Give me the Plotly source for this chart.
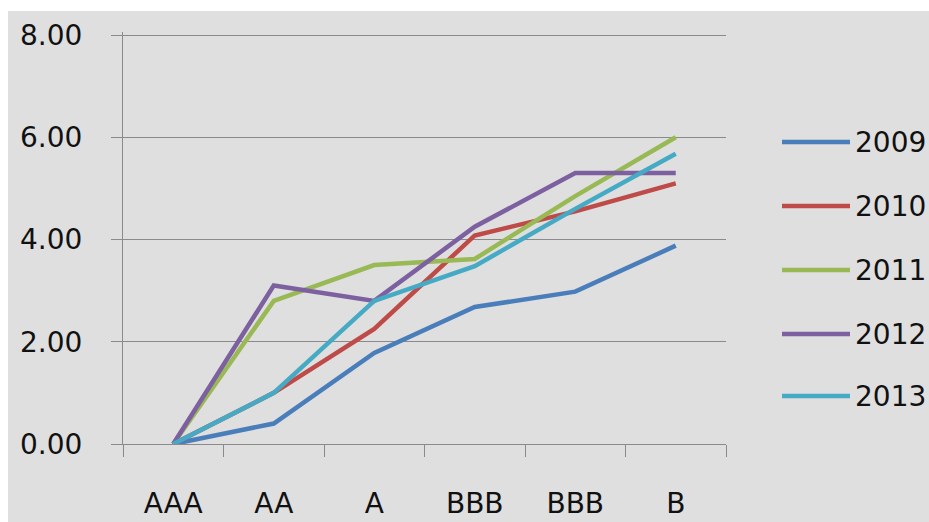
import plotly.graph_objects as go

# rating grades along the x axis (the source repeats "BBB")
grades = ["AAA", "AA", "A", "BBB", "BBB", "B"]
years = ["2009", "2010", "2011", "2012", "2013"]

s2009 = [0.0, 0.40, 1.78, 2.68, 2.98, 3.88]
s2010 = [0.0, 1.00, 2.25, 4.08, 4.55, 5.10]
s2011 = [0.0, 2.80, 3.50, 3.62, 4.85, 6.00]
s2012 = [0.0, 3.10, 2.80, 4.25, 5.30, 5.30]
s2013 = [0.0, 1.00, 2.80, 3.48, 4.60, 5.68]

y_ticks = [0, 2, 4, 6, 8]

series = [s2009, s2010, s2011, s2012, s2013]
colors = ["#4a7ebb", "#be4b48", "#98b954", "#7d60a0", "#46aac5"]

FONT = dict(family="DejaVu Sans", size=28, color="#111111")
AXIS_GREY = "#8a8a8a"

W, H = 929, 522
L, R, T, B = 123, 203, 32, 78
plot_w, plot_h = W - L - R, H - T - B

pos = list(range(len(grades)))

fig = go.Figure()
for year, vals, col in zip(years, series, colors):
    fig.add_trace(go.Scatter(
        x=pos, y=vals, mode="lines", name=year,
        line=dict(color=col, width=4.5), showlegend=False,
    ))

# grey chart-area background, thin white strips left and top
shapes = [dict(type="rect", xref="paper", yref="paper", layer="below",
               x0=(8 - L) / plot_w, x1=(W - L) / plot_w,
               y0=-B / plot_h, y1=(H - B - 11) / plot_h,
               fillcolor="#dfdfdf", line=dict(width=0))]

# hand-built legend so the sample lines are as long as in the original
annotations = []
leg_y = [142, 206, 270, 334, 396]
for year, col, py in zip(years, colors, leg_y):
    yp = (H - B - py) / plot_h
    shapes.append(dict(type="line", xref="paper", yref="paper",
                       x0=(782 - L) / plot_w, x1=(850 - L) / plot_w, y0=yp, y1=yp,
                       line=dict(color=col, width=4.5)))
    annotations.append(dict(text=year, xref="paper", yref="paper",
                            x=(853 - L) / plot_w, y=yp, xanchor="left", yanchor="middle",
                            showarrow=False, font=FONT))

fig.update_layout(
    width=W, height=H,
    margin=dict(l=L, r=R, t=T, b=B),
    paper_bgcolor="white", plot_bgcolor="rgba(0,0,0,0)",
    font=FONT, shapes=shapes, annotations=annotations,
)
fig.update_xaxes(
    range=[-0.5, len(grades) - 0.5], tickmode="array", tickvals=pos, ticktext=grades,
    ticks="", ticklabelstandoff=34, showgrid=False, zeroline=False, automargin=False,
    showline=True, linecolor=AXIS_GREY, linewidth=1,
    minor=dict(ticks="outside", ticklen=12, tickcolor=AXIS_GREY, tickwidth=1,
               tickmode="array", tickvals=[p - 0.5 for p in pos] + [pos[-1] + 0.5],
               showgrid=False),
)
# top of range a touch above 8 so the 8.00 gridline is kept
fig.update_yaxes(
    range=[0, 8.06], tickmode="array", tickvals=y_ticks,
    ticktext=[f"{v:.2f}" for v in y_ticks],
    ticks="outside", ticklen=11, tickcolor=AXIS_GREY, ticklabelstandoff=23,
    showgrid=True, gridcolor=AXIS_GREY, gridwidth=1, zeroline=False, automargin=False,
    showline=True, linecolor=AXIS_GREY, linewidth=1,
)

# drop the browser's default body margin so the figure fills the window
fig.write_html(
    "out.html",
    config={"displayModeBar": False},
    post_script="document.body.style.margin='0';document.body.style.overflow='hidden';",
)
